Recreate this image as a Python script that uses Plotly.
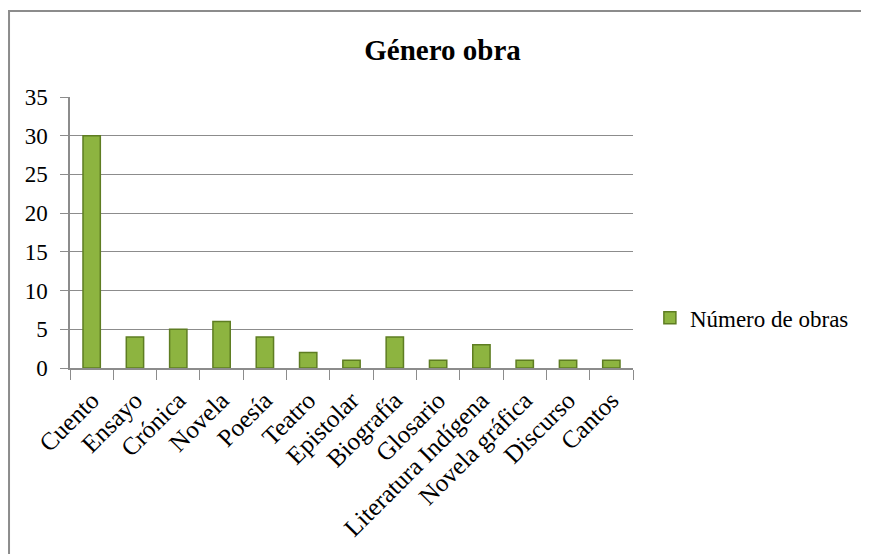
import plotly.graph_objects as go

categories = ["Cuento", "Ensayo", "Crónica", "Novela", "Poesía", "Teatro", "Epistolar",
              "Biografía", "Glosario", "Literatura Indígena", "Novela gráfica", "Discurso", "Cantos"]
values = [30, 4, 5, 6, 4, 2, 1, 4, 1, 3, 1, 1, 1]
y_ticks = [0, 5, 10, 15, 20, 25, 30, 35]

font = "Liberation Serif, Times New Roman, serif"

fig = go.Figure()
fig.add_trace(go.Bar(
    x=categories, y=values, name="Número de obras",
    marker=dict(color="#8DB440", line=dict(color="#5E7D22", width=1.5)),
    width=0.4,
))

fig.update_layout(
    width=869, height=554,
    margin=dict(l=62, r=244, t=89, b=194),
    paper_bgcolor="white", plot_bgcolor="white",
    font=dict(family=font, size=22, color="black"),
    title=dict(text="<b>Género obra</b>", x=0.5, xanchor="center", y=0.925, yanchor="middle",
               yref="container", font=dict(family=font, size=29, color="black")),
    showlegend=True,
    legend=dict(x=1.03, y=0.185, xanchor="left", yanchor="middle", font=dict(size=23),
                itemwidth=30, bgcolor="rgba(0,0,0,0)"),
    shapes=[dict(type="rect", xref="paper", yref="paper", x0=-0.1083, x1=1.6, y0=-1.0, y1=1.317,
                 line=dict(color="#8c8c8c", width=2), fillcolor="rgba(0,0,0,0)", layer="below")],
)
fig.update_xaxes(
    tickangle=-45, showline=True, linecolor="#8c8c8c", linewidth=1.5,
    ticks="outside", tickson="boundaries", ticklen=10, tickcolor="#8c8c8c",
    ticklabelstandoff=6,
    showgrid=False, tickfont=dict(family=font, size=25, color="black"),
)
fig.update_yaxes(
    range=[0, 35], tickvals=y_ticks, showline=True, linecolor="#8c8c8c", linewidth=1.5,
    ticks="outside", ticklen=8, tickcolor="#8c8c8c", ticklabelstandoff=8,
    showgrid=True, gridcolor="#8c8c8c", gridwidth=1, zeroline=False,
    tickfont=dict(family=font, size=23, color="black"),
)

fig.write_html("out.html")
